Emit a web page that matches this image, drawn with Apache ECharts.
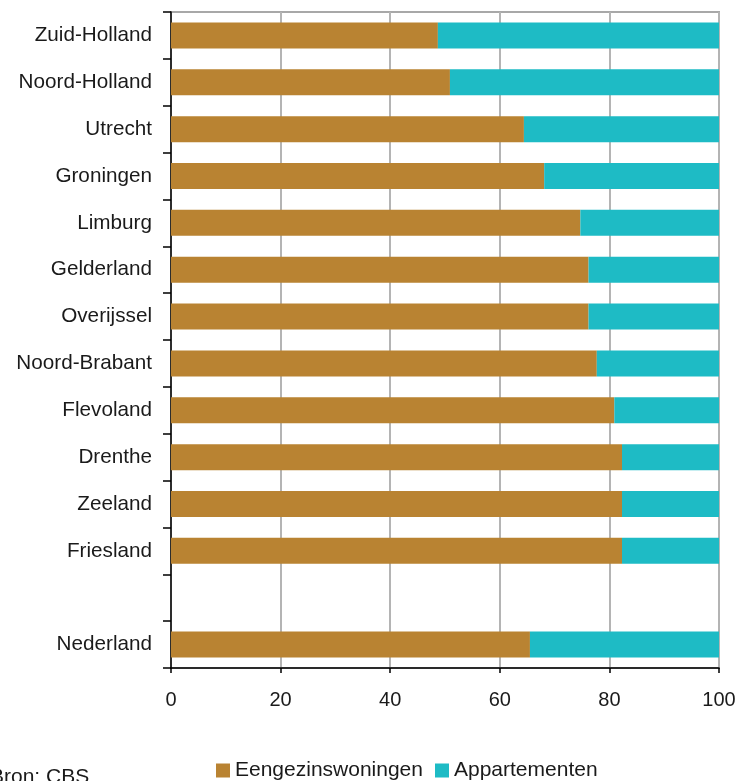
<!DOCTYPE html>
<html>
<head>
<meta charset="utf-8">
<script src="https://cdn.jsdelivr.net/npm/echarts@6/dist/echarts.min.js"></script>
<style>
  html, body { margin: 0; padding: 0; background: #fff; }
  #chart { width: 736px; height: 781px; position: relative; overflow: hidden; }
  .bron {
    position: absolute;
    left: -10px;
    top: 764px;
    font-family: "Liberation Sans", Arial, sans-serif;
    font-size: 21px;
    color: #1a1a1a;
    white-space: nowrap;
  }
</style>
</head>
<body>
<div id="chart"></div>
<script>
// provincies, van boven naar beneden (lege regel voor Nederland)
const categories = ['Zuid-Holland', 'Noord-Holland', 'Utrecht', 'Groningen', 'Limburg', 'Gelderland',
  'Overijssel', 'Noord-Brabant', 'Flevoland', 'Drenthe', 'Zeeland', 'Friesland', '', 'Nederland']
const eengezinswoningen = [48.7, 50.9, 64.4, 68.1, 74.7, 76.2, 76.2, 77.7, 80.9, 82.3, 82.3, 82.3, null, 65.5]
const appartementen = [51.3, 49.1, 35.6, 31.9, 25.3, 23.8, 23.8, 22.3, 19.1, 17.7, 17.7, 17.7, null, 34.5]
const xTicks = [0, 20, 40, 60, 80, 100]

const font = '"Liberation Sans", Arial, sans-serif'
const chart = echarts.init(document.getElementById('chart'))

chart.setOption({
  animation: false,
  textStyle: { fontFamily: font },
  color: ['#b98332', '#1ebbc5'],
  grid: {
    left: 171,
    right: 17,
    top: 12,
    bottom: 113,
    outerBoundsMode: 'none',
    containLabel: false,
    show: true,
    borderColor: '#a8a8a8',
    borderWidth: 2
  },
  legend: {
    left: 211,
    top: 755,
    icon: 'rect',
    itemWidth: 14,
    itemHeight: 14,
    itemGap: 12,
    textStyle: { fontSize: 21, color: '#1a1a1a', fontFamily: font },
    data: ['Eengezinswoningen', 'Appartementen']
  },
  xAxis: {
    type: 'value',
    min: xTicks[0],
    max: xTicks[xTicks.length - 1],
    interval: 20,
    axisLine: { show: true, lineStyle: { color: '#000', width: 1.5 } },
    axisTick: { show: true, length: 5, lineStyle: { color: '#000', width: 1.5 } },
    axisLabel: { margin: 22, fontSize: 20, color: '#1a1a1a', fontFamily: font },
    splitLine: { show: true, lineStyle: { color: '#b4b4b4', width: 2 } }
  },
  yAxis: {
    type: 'category',
    inverse: true,
    data: categories,
    axisLine: { show: true, lineStyle: { color: '#000', width: 1.5 } },
    axisTick: { show: true, length: 8, alignWithLabel: false, lineStyle: { color: '#000', width: 1.5 } },
    axisLabel: { margin: 19, fontSize: 20.7, color: '#1a1a1a', fontFamily: font },
    splitLine: { show: false }
  },
  series: [
    {
      name: 'Eengezinswoningen',
      type: 'bar',
      stack: 'totaal',
      barWidth: 26,
      data: eengezinswoningen
    },
    {
      name: 'Appartementen',
      type: 'bar',
      stack: 'totaal',
      barWidth: 26,
      data: appartementen
    }
  ]
})
</script>
<div class="bron">Bron: CBS</div>
</body>
</html>
